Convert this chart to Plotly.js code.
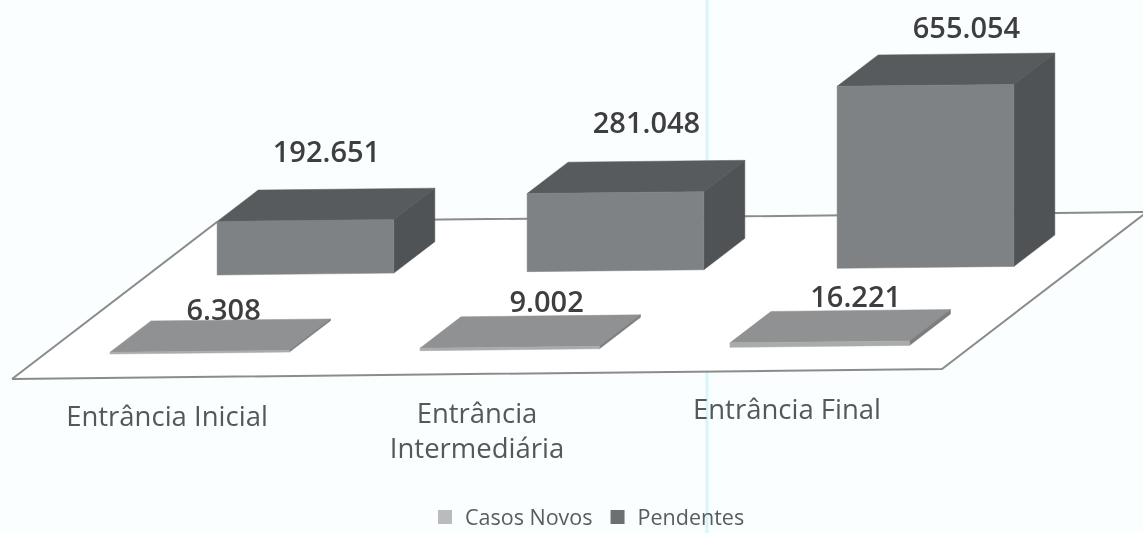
<!DOCTYPE html>
<html><head><meta charset="utf-8">
<script src="https://cdn.plot.ly/plotly-3.0.1.min.js"></script>
<style>html,body{margin:0;padding:0;background:#fbfeff}#chart{width:1143px;height:533px;filter:blur(0.5px)}</style>
</head><body><div id="chart"></div>
<script>
// Data
var categories = ['Entrância Inicial', 'Entrância<br>Intermediária', 'Entrância Final'];
var casosNovos = [6308, 9002, 16221];
var pendentes = [192651, 281048, 655054];
var labelsCasos = ['6.308', '9.002', '16.221'];
var labelsPendentes = ['192.651', '281.048', '655.054'];

// Oblique projection of the chart's 3D floor onto the flat axes
var origin = [12, 379], uVec = [930, -10], vVec = [205, -157];
var pxPerValue = 182 / 655054;
var step = 1 / 3;
function project(u, v, value) {
  return [origin[0] + uVec[0] * u + vVec[0] * v,
          origin[1] + uVec[1] * u + vVec[1] * v - value * pxPerValue];
}
function face(corners, color, lineColor) {
  var pts = corners.concat([corners[0]]).map(function (c) { return project(c[0], c[1], c[2]); });
  return { type: 'scatter', mode: 'lines', x: pts.map(function (p) { return p[0]; }),
    y: pts.map(function (p) { return p[1]; }), fill: 'toself', fillcolor: color,
    line: { color: lineColor || color, width: lineColor ? 2 : 0.5 }, showlegend: false, hoverinfo: 'skip' };
}
function box(u0, w, v0, d, value, colors) {
  var u1 = u0 + w, v1 = v0 + d;
  return [
    face([[u0, v1, value], [u1, v1, value], [u1, v0, value], [u0, v0, value]], colors.top),
    face([[u1, v0, 0], [u1, v1, 0], [u1, v1, value], [u1, v0, value]], colors.side),
    face([[u0, v0, 0], [u1, v0, 0], [u1, v0, value], [u0, v0, value]], colors.front)
  ];
}
var colorsCasos = { top: '#909193', side: '#7c7d7f', front: '#aaabab' };
var colorsPend = { top: '#585b5d', side: '#505355', front: '#7f8284' };

var traces = [face([[0, 0, 0], [1, 0, 0], [1, 1, 0], [0, 1, 0]], '#ffffff', '#8a8c8c')];
casosNovos.forEach(function (val, i) {
  traces = traces.concat(box(0.0713 + step * i, 0.193, 0.1545, 0.2, val, colorsCasos));
});
pendentes.forEach(function (val, i) {
  traces = traces.concat(box(0.0756 + step * i, 0.19, 0.6576, 0.2, val, colorsPend));
});

// Value labels
var nudgeCasos = [[-18, -7], [-5, -11], [-6, -11]];
var nudgePend = [[-20, -34], [-10, -35], [0, -23]];
function labelTrace(values, texts, u0, w, v, nudge) {
  var pts = values.map(function (val, i) {
    var p = project(u0 + step * i + w / 2, v, val);
    return [p[0] + nudge[i][0], p[1] + nudge[i][1]];
  });
  return { type: 'scatter', mode: 'text', x: pts.map(function (p) { return p[0]; }),
    y: pts.map(function (p) { return p[1]; }), text: texts, textposition: 'middle center',
    textfont: { family: 'Open Sans', size: 29, color: '#3c3e40', weight: 600 },
    cliponaxis: false, showlegend: false, hoverinfo: 'skip' };
}
traces.push(labelTrace(casosNovos, labelsCasos, 0.0713, 0.195, 0.3545, nudgeCasos));
traces.push(labelTrace(pendentes, labelsPendentes, 0.0756, 0.19, 0.8576, nudgePend));

// Category labels under the floor
var catPts = categories.map(function (c, i) { return project(0.1656 + step * i, 0, 0); });
traces.push({ type: 'scatter', mode: 'text', x: catPts.map(function (p) { return p[0] + 1; }),
  y: catPts.map(function (p) { return p[1] + 28; }), text: categories, textposition: 'bottom center',
  textfont: { family: 'Open Sans', size: 27.5, color: '#55585a' }, showlegend: false, hoverinfo: 'skip' });

// Legend entries
[['Casos Novos', '#b9bbbc'], ['Pendentes', '#6d7072']].forEach(function (s) {
  traces.push({ type: 'scatter', mode: 'markers', x: [null], y: [null], name: s[0],
    marker: { symbol: 'square', size: 14, color: s[1] }, hoverinfo: 'skip' });
});

var layout = {
  width: 1143, height: 533,
  margin: { l: 0, r: 0, t: 0, b: 0, autoexpand: false },
  paper_bgcolor: '#fbfeff', plot_bgcolor: '#fbfeff',
  xaxis: { range: [0, 1143], visible: false, fixedrange: true },
  yaxis: { range: [533, 0], visible: false, fixedrange: true },
  showlegend: true,
  legend: { orientation: 'h', x: 0.514, xanchor: 'center', y: 0.0300, yanchor: 'middle', itemwidth: 30,
    bgcolor: 'rgba(0,0,0,0)', font: { family: 'Open Sans', size: 21.5, color: '#5a5d60' } },
  shapes: [{ type: 'line', layer: 'below', xref: 'paper', yref: 'paper', x0: 0.6185, x1: 0.6185, y0: 0, y1: 1,
    line: { color: '#d6f6f8', width: 3 } }]
};
Plotly.newPlot('chart', traces, layout, { displayModeBar: false, staticPlot: true });
</script></body></html>
